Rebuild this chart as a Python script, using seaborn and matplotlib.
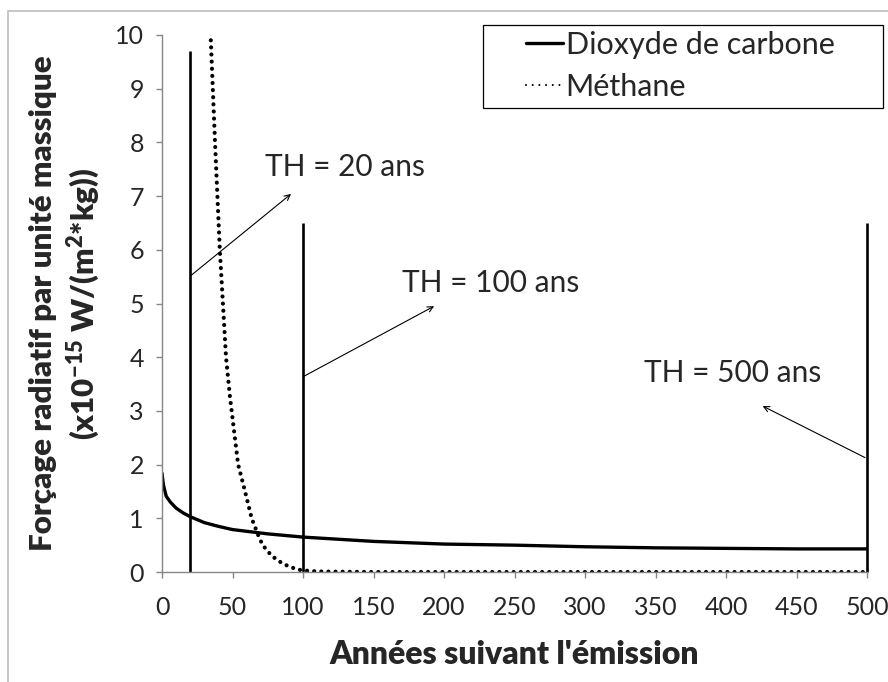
import numpy as np
import pandas as pd
import matplotlib
matplotlib.use("Agg")
import matplotlib.pyplot as plt
from matplotlib.patches import Rectangle
import seaborn as sns

# values
co2_years = [0, 1, 3, 6, 10, 15, 20, 30, 40, 50, 75, 100, 150, 200, 250, 300, 350, 400, 450, 500]
co2_forcing = [1.84, 1.62, 1.41, 1.30, 1.19, 1.10, 1.03, 0.92, 0.85, 0.79, 0.71, 0.65,
               0.57, 0.52, 0.50, 0.47, 0.45, 0.44, 0.43, 0.43]

ch4_years = [34, 37.6, 41, 45.4, 48.2, 54, 58.9, 63.6, 68, 71.4, 77.8, 85.9, 95.5, 100,
             110, 150, 200, 250, 300, 350, 400, 450, 500]
ch4_forcing = [10.3, 8.0, 6.0, 4.0, 3.26, 2.0, 1.5, 1.0, 0.7, 0.5, 0.3, 0.15, 0.05, 0.03,
               0.01, 0.0, 0.0, 0.0, 0.0, 0.0, 0.0, 0.0, 0.0]

horizons = [20, 100, 500]
horizon_tops = [9.7, 6.5, 6.5]

sns.set_style("ticks")
plt.rcParams['font.family'] = ['Lato', 'DejaVu Sans']
plt.rcParams['mathtext.fontset'] = 'custom'
plt.rcParams['mathtext.rm'] = 'Lato'
plt.rcParams['mathtext.bf'] = 'Lato:heavy'

fig = plt.figure(figsize=(8.88, 6.82), dpi=100)
ax = fig.add_axes([162 / 888, 1 - 572 / 682, 705 / 888, 537 / 682])

# thin grey frame around the whole chart
fig.patches.append(Rectangle((8 / 888, -0.1), 1.2, 1 - 11 / 682 + 0.1, transform=fig.transFigure,
                             fill=False, edgecolor='#bdbdbd', linewidth=1.2))
# legend box (Excel leaves a wide empty margin on its left)
ax.add_patch(Rectangle((483 / 888, 1 - 108 / 682), 400 / 888, 83 / 682,
                       transform=fig.transFigure, clip_on=False, facecolor='white',
                       edgecolor='black', linewidth=0.9, zorder=5))

co2 = pd.DataFrame({'year': co2_years, 'rf': co2_forcing})
ch4 = pd.DataFrame({'year': ch4_years, 'rf': ch4_forcing})

dots = (0.01, 1.7)
sns.lineplot(data=co2, x='year', y='rf', ax=ax, color='black', linewidth=2.4,
             label='Dioxyde de carbone')
sns.lineplot(data=ch4, x='year', y='rf', ax=ax, color='black', linewidth=3.0,
             label='Méthane')
ch4_line = ax.get_lines()[1]
ch4_line.set_dashes(dots)
ch4_line.set_dash_capstyle('round')

ax.vlines(horizons, 0, horizon_tops, colors='black', linewidth=1.9, clip_on=False)

arrow = dict(arrowstyle='->', color='black', lw=0.8, shrinkA=0, shrinkB=0)
ax.annotate('', xy=(91.5, 7.04), xytext=(20, 5.51), arrowprops=arrow)
ax.annotate('', xy=(193, 4.95), xytext=(101, 3.65), arrowprops=arrow)
ax.annotate('', xy=(426, 3.09), xytext=(498.6, 2.13), arrowprops=arrow)
ax.text(73, 7.54, 'TH = 20 ans', fontsize=21.5, va='center', ha='left')
ax.text(170, 5.38, 'TH = 100 ans', fontsize=21.5, va='center', ha='left')
ax.text(342, 3.7, 'TH = 500 ans', fontsize=21.5, va='center', ha='left')

ax.set_xlim(0, 500)
ax.set_ylim(0, 10)
ax.set_xticks(np.arange(0, 501, 50))
ax.set_yticks(np.arange(0, 11, 1))
ax.tick_params(axis='both', labelsize=18, length=4, width=1, color='#868686')
ax.tick_params(axis='x', pad=13)
ax.tick_params(axis='y', pad=9)
for side in ['left', 'bottom']:
    ax.spines[side].set_color('#868686')
    ax.spines[side].set_linewidth(1)
sns.despine(ax=ax)

ax.set_xlabel("Années suivant l'émission", fontsize=23, fontweight='heavy', va='center')
ax.xaxis.set_label_coords(0.5, (572 - 655) / 537)
ax.set_ylabel("Forçage radiatif par unité massique\n"
              r"(x10$^{\mathbf{-15}}$ W/(m$^{\mathbf{2}}$*kg))",
              fontsize=22.5, fontweight='heavy', va='center', multialignment='center',
              linespacing=1.25)
ax.yaxis.set_label_coords((66 - 162) / 705, 0.5)

leg = ax.legend(loc='upper left', bbox_to_anchor=(526 / 888, 1 - 31 / 682),
                bbox_transform=fig.transFigure, fontsize=22, frameon=False,
                handlelength=1.2, handletextpad=0.1,
                borderpad=0, labelspacing=0.45, borderaxespad=0)
leg.set_zorder(6)
leg.get_lines()[1].set_linewidth(1.5)
leg.get_lines()[1].set_dashes((0.01, 3.2))
leg.get_lines()[1].set_dash_capstyle('round')

fig.savefig("out.png", dpi=100)
